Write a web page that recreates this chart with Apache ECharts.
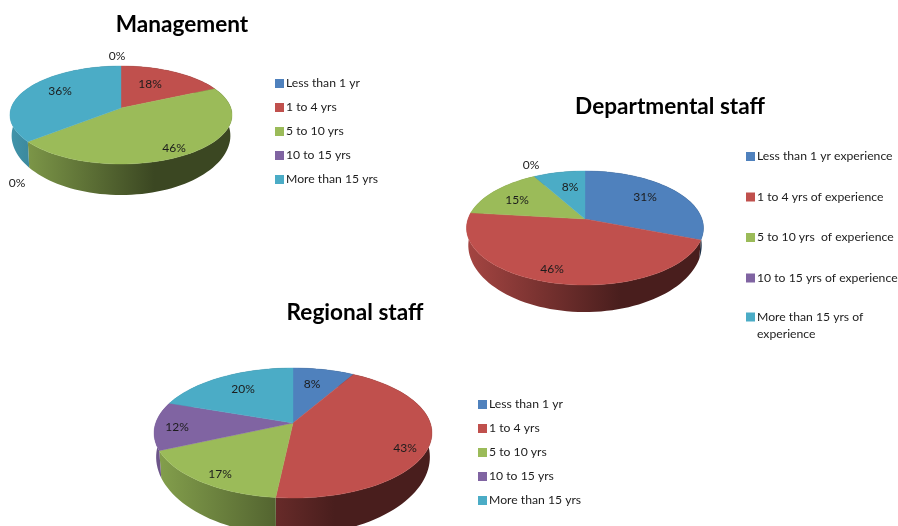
<!DOCTYPE html>
<html><head><meta charset="utf-8">
<style>html,body{margin:0;padding:0;background:#fff}#c{width:898px;height:526px}</style>
<script src="https://cdn.jsdelivr.net/npm/echarts@6/dist/echarts.min.js"></script>
</head><body><div id="c"></div>
<script>
// ---- data ----
const managementCategories = ['Less than 1 yr','1 to 4 yrs','5 to 10 yrs','10 to 15 yrs','More than 15 yrs'];
const managementValues = [0,18,46,0,36];
const departmentCategories = ['Less than 1 yr experience','1 to 4 yrs of experience','5 to 10 yrs  of experience','10 to 15 yrs of experience','More than 15 yrs of\nexperience'];
const departmentValues = [30.8,46,15,0,8.2];
const regionalCategories = ['Less than 1 yr','1 to 4 yrs','5 to 10 yrs','10 to 15 yrs','More than 15 yrs'];
const regionalValues = [8.3,43.4,16.6,12,19.7];
const sliceColors = ['#4F81BD','#C0504D','#9BBB59','#8064A2','#4BACC6'];

// ---- layout ----
const FONT = 'Lato';
const pies = [
  {title:'Management', cats:managementCategories, vals:managementValues, cx:121, cy:108, a:109.9, r:48, k:0.143, d:31,
   titleX:182, titleY:13,
   labels:[[117,56],[150,84],[174,148],[17,183],[60,91]],
   legend:{left:275, top:75, itemGap:7}},
  {title:'Departmental staff', cats:departmentCategories, vals:departmentValues, cx:585, cy:219, a:117, r:55.6, k:0.158, d:27,
   titleX:670, titleY:95,
   labels:[[645,197],[552,269],[517,200],[531,165],[570,187]],
   legend:{left:746, top:148, itemGap:23.5, lastTop:291.5}},
  {title:'Regional staff', cats:regionalCategories, vals:regionalValues, cx:293, cy:423, a:137.3, r:63.5, k:0.154, d:37,
   titleX:355, titleY:301,
   labels:[[312,384],[405,448],[220,474],[177,427],[243,389]],
   legend:{left:478, top:396, itemGap:7}}
];

function shade(hex, f){
  const n = parseInt(hex.slice(1),16);
  const c = [n>>16&255, n>>8&255, n&255].map(v=>Math.round(v*f));
  return 'rgb('+c.join(',')+')';
}
// project a pie-plane angle (radians, clockwise from the back) to the page
function project(p, ang){
  const u = Math.sin(ang), v = Math.cos(ang), w = 1 + p.k*v;
  return {x:p.cx + p.a*u/w, y:p.cy - p.r*v/w, w:w};
}
function sliceRenderer(p, color, startShare, labelPos){
  return function(params, api){
    const value = api.value(0);
    const children = [];
    if (value > 0){
      const a0 = startShare/100*2*Math.PI, a1 = (startShare+value)/100*2*Math.PI;
      const n = Math.max(8, Math.ceil(value*1.5));
      const rim = [], low = [];
      for (let i=0;i<=n;i++){
        const q = project(p, a0+(a1-a0)*i/n);
        rim.push([q.x,q.y]);
        const depth = p.d*Math.pow((1-p.k)/q.w,3);
        low.push([p.cx+(q.x-p.cx)*0.985, q.y+depth]);
      }
      const wall = rim.concat(low.slice().reverse());
      const x0 = p.cx-p.a*1.01, x1 = p.cx+p.a*1.01;
      children.push({type:'polygon', z2:1, shape:{points:wall}, style:{
        fill:{type:'linear', global:true, x:x0, y:0, x2:x1, y2:0, colorStops:[
          {offset:0,color:shade(color,0.86)},
          {offset:0.65,color:shade(color,0.38)},
          {offset:1,color:shade(color,0.38)}]}}});
      children.push({type:'polygon', z2:5, shape:{points:[[p.cx,p.cy]].concat(rim)},
        style:{fill:color, stroke:color, lineWidth:0.4}});
    }
    children.push({type:'text', z2:20, style:{text:Math.round(value)+'%',
      x:labelPos[0], y:labelPos[1], align:'center', verticalAlign:'middle',
      fill:'#1c1c1c', font:'12px '+FONT}});
    return {type:'group', children:children};
  };
}

const series = [], titles = [], legends = [];
function legendOf(names, left, top, gap){
  return {orient:'vertical', left:left, top:top, padding:0,
    itemGap:gap, itemWidth:9, itemHeight:9, icon:'rect', selectedMode:false,
    data:names,
    // a blank first line keeps a wrapped name's first line level with its swatch
    formatter:name => name.indexOf('\n')>=0 ? '\n'+name : name,
    textStyle:{fontFamily:FONT, fontSize:12.2, color:'#1c1c1c', lineHeight:17, padding:[0,0,0,-3]}};
}
pies.forEach(p=>{
  titles.push({text:p.title, left:p.titleX, top:p.titleY, textAlign:'center', padding:0,
    textStyle:{fontFamily:FONT, fontWeight:'bold', fontSize:22.6, color:'#000'}});
  const wrapped = p.cats.filter(c=>c.indexOf('\n')>=0);
  const plain = p.cats.filter(c=>c.indexOf('\n')<0);
  legends.push(legendOf(plain, p.legend.left, p.legend.top, p.legend.itemGap));
  if (wrapped.length) legends.push(legendOf(wrapped, p.legend.left, p.legend.lastTop, 0));
  let acc = 0;
  p.vals.forEach((v,i)=>{
    series.push({type:'custom', name:p.cats[i], coordinateSystem:'none', silent:true,
      itemStyle:{color:sliceColors[i]}, data:[[v]],
      renderItem:sliceRenderer(p, sliceColors[i], acc, p.labels[i])});
    acc += v;
  });
});

const chart = echarts.init(document.getElementById('c'), null, {renderer:'canvas', width:898, height:526});
chart.setOption({animation:false, backgroundColor:'#fff', color:sliceColors,
  title:titles, legend:legends, series:series});
</script></body></html>
